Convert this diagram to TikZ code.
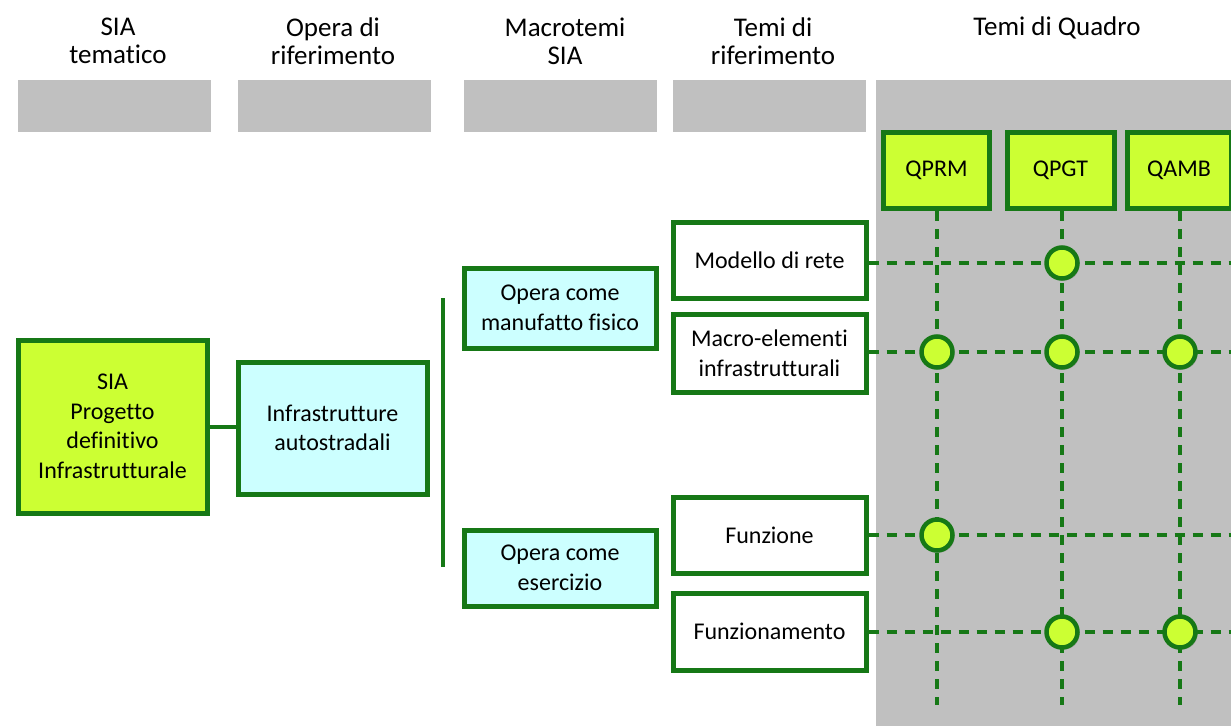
\documentclass[tikz,border=0pt]{standalone}
\usepackage{fontspec}
\setmainfont{Carlito}[Ligatures=NoCommon]
\usetikzlibrary{shadows}
\definecolor{dg}{RGB}{22,120,22}
\definecolor{lime}{RGB}{204,255,51}
\definecolor{lcyan}{RGB}{204,255,255}
\definecolor{gbar}{RGB}{192,192,192}
\tikzset{
  x=1pt,y=-1pt,
  base/.style={draw=dg,line width=5pt,align=center,font=\fontsize{24}{29.5}\selectfont,inner sep=0pt,
    drop shadow={shadow xshift=2.5pt,shadow yshift=-2.5pt,fill=black!50,opacity=0.5}},
  limebox/.style={base,fill=lime},
  cyanbox/.style={base,fill=lcyan},
  whitebox/.style={base,fill=white},
  hdr/.style={align=center,font=\fontsize{27}{28}\selectfont,inner sep=0pt},
  dl/.style={draw=dg,line width=3.5pt,dash pattern=on 10pt off 8pt},
  dot/.style={circle,draw=dg,line width=4.5pt,fill=lime,minimum size=31pt,inner sep=0pt,
    drop shadow={shadow xshift=2pt,shadow yshift=-2pt,fill=black!50,opacity=0.5}},
  conn/.style={draw=dg,line width=4.5pt}
}
\begin{document}
\begin{tikzpicture}
\useasboundingbox (0,0) rectangle (1231,726);
% backgrounds
\fill[gbar] (876,80) rectangle (1231,726);
\foreach \a/\b in {18/211,238/431,464/657,673/866}{\fill[gbar] (\a,80) rectangle (\b,132);}
% headers
\node[hdr] (h1) at (118,41) {SIA\\tematico};
\node[hdr] (h2) at (333,41) {Opera di\\riferimento};
\node[hdr] (h3) at (565,41) {Macrotemi\\SIA};
\node[hdr] (h4) at (773,41) {Temi di\\riferimento};
\node[hdr] (h5) at (1057,28) {Temi di Quadro};
% column boxes
\node[limebox,minimum width=106pt,minimum height=76pt] (qprm) at (936.5,170.5) {QPRM};
\node[limebox,minimum width=107pt,minimum height=76pt] (qpgt) at (1060.5,170.5) {QPGT};
\node[limebox,minimum width=104pt,minimum height=76pt] (qamb) at (1179,170.5) {QAMB};
% coordinates
\coordinate (vq1) at (937,705);
\coordinate (vq2) at (1062,705);
\coordinate (vq3) at (1180,705);
% left boxes
\node[limebox,minimum width=189pt,minimum height=173pt] (sia) at (112.5,426.5) {SIA\\Progetto\\definitivo\\Infrastrutturale};
\node[cyanbox,minimum width=189pt,minimum height=132pt] (inf) at (332.5,428) {Infrastrutture\\autostradali};
\node[cyanbox,minimum width=192pt,minimum height=80pt] (om) at (560,308) {Opera come\\manufatto fisico};
\node[cyanbox,minimum width=192pt,minimum height=76pt] (oe) at (560,568) {Opera come\\esercizio};
\node[whitebox,minimum width=193pt,minimum height=76pt] (mr) at (769.5,260) {Modello di rete};
\node[whitebox,minimum width=193pt,minimum height=78pt] (me) at (769.5,353) {Macro-elementi\\infrastrutturali};
\node[whitebox,minimum width=193pt,minimum height=76pt] (fz) at (769.5,535) {Funzione};
\node[whitebox,minimum width=193pt,minimum height=77pt] (fm) at (769.5,631.5) {Funzionamento};
% connectors
\draw[conn] (sia.east|-0,427) -- (inf.west|-0,427);
\coordinate (vt) at (443,298);
\coordinate (vb) at (443,567);
\draw[conn] (vt) -- (vb);
\coordinate (r1) at (1231,263);
\coordinate (r2) at (1231,352);
\coordinate (r3) at (1231,535);
\coordinate (r4) at (1231,632);
\draw[dl] (mr.east|-0,263) -- (r1);
\draw[dl] (me.east|-0,352) -- (r2);
\draw[dl] (fz.east|-0,535) -- (r3);
\draw[dl] (fm.east|-0,632) -- (r4);
\draw[dl] (qprm.south-|937,0) -- (vq1);
\draw[dl] (qpgt.south-|1062,0) -- (vq2);
\draw[dl] (qamb.south-|1180,0) -- (vq3);
% dots
\node[dot] (d1) at (1062,263) {};
\node[dot] (d2) at (937,352) {};
\node[dot] (d3) at (1062,352) {};
\node[dot] (d4) at (1180,352) {};
\node[dot] (d5) at (937,535) {};
\node[dot] (d6) at (1062,632) {};
\node[dot] (d7) at (1180,632) {};
\end{tikzpicture}
\end{document}
